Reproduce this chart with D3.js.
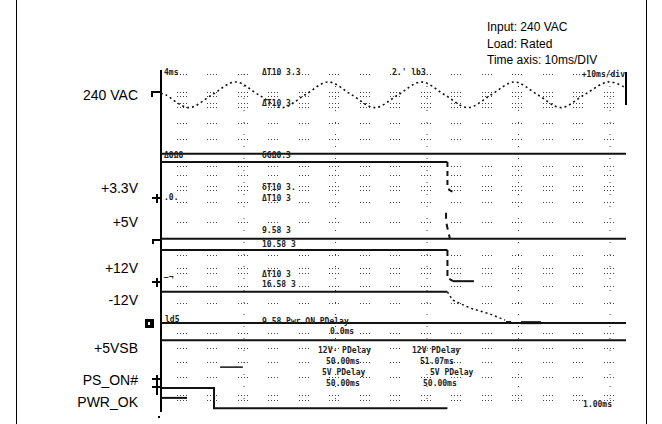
<!DOCTYPE html>
<html lang="en">
<head>
<meta charset="utf-8">
<title>Power down timing</title>
<script src="https://d3js.org/d3.v7.min.js"></script>
<style>
  body { margin: 0; background: #fff; }
  .lbl { font: 14px "Liberation Sans", Arial, sans-serif; fill: #000; }
  .info { font: 12px "Liberation Sans", Arial, sans-serif; fill: #000; }
  .scope { font: bold 8px "DejaVu Sans Mono", monospace; fill: #222; }
</style>
</head>
<body>
<div id="chart"></div>
<script>
"use strict"

// channel names down the left side
var channels = ["240 VAC", "+3.3V", "+5V", "+12V", "-12V", "+5VSB", "PS_ON#", "PWR_OK"];
var infoLines = ["Input: 240 VAC", "Load: Rated", "Time axis: 10ms/DIV"];

// traces: time in ms (10 ms/div), level in screen divisions from the bottom
var acT   = [0, 1, 6, 11, 16, 21, 26, 31, 36, 41, 46, 51, 56, 61, 66, 71, 76, 81, 86, 91, 96, 100];
var acDiv = [7.44, 7.42, 7.12, 7.42, 7.72, 7.42, 7.12, 7.42, 7.72, 7.42, 7.12, 7.42, 7.72, 7.42, 7.12, 7.42, 7.72, 7.42, 7.12, 7.42, 7.72, 7.58];

var refT = [0, 100];
var refA = [6.04, 6.04];
var refB = [4.05, 4.05];
var refC = [2.08, 2.08];
var refD = [1.68, 1.68];

var v33T = [0, 61.6],   v33 = [5.85, 5.85];
var v33FallT = [61.6, 61.6, 62.0, 62.8], v33Fall = [5.85, 5.31, 5.19, 5.15];
var v33TailT = [61.3, 61.3, 61.5, 62.1], v33Tail = [4.66, 4.49, 4.35, 4.07];

var v12T = [0, 61.6],   v12 = [3.79, 3.79];
var v12FallT = [61.6, 61.6, 62.8], v12Fall = [3.79, 3.14, 3.06];
var v12HoldT = [62.8, 67.3], v12Hold = [3.06, 3.06];

var n12T = [0, 61.6],   n12 = [2.81, 2.81];
var n12FallT = [61.6, 62.7, 66.5, 70.8, 74.0], n12Fall = [2.81, 2.62, 2.43, 2.29, 2.15];
var n12DashT = [74.2, 75.3], n12Dash = [2.11, 2.11];
var n12BarT  = [77.4, 81.7], n12Bar  = [2.09, 2.09];

var psOnT = [0, 11.4, 11.4, 61.6], psOn = [0.56, 0.56, 0.09, 0.09];
var pwrT  = [0, 5.6],  pwr  = [0.33, 0.33];
var psSegT = [12.7, 17.6], psSeg = [1.05, 1.05];

// scope on-screen readouts
var readouts = [
  ["+10ms/div", 625, 77, "end"],
  ["4ms", 164, 75], ["\u0394T10 3.3", 262, 75], ["2.' lb3", 392, 75],
  ["\u0394T10 3", 262, 106],
  ["\u0394\u0398\u03a9\u0398", 164, 158], ["\u03b4G\u03a9\u0398.3", 262, 158],
  ["\u0394T10 3", 262, 201], ["\u03b4T10 3.", 262, 190], [".0.", 164, 200],
  ["9.58 3", 262, 233], ["10.58 3", 262, 247],
  ["\u0394T10 3", 262, 277], ["16.58 3", 262, 287], ["\u2212\u00ac", 164, 280],
  ["9.58 Pwr ON  PDelay", 262, 324], ["0.0ms", 330, 334], ["ld5", 165, 322],
  ["12V\u00b7 PDelay", 318, 353], ["12V  PDelay", 412, 353],
  ["50.00ms", 326, 364], ["51.07ms", 420, 364],
  ["5V  PDelay", 322, 375], ["5V  PDelay", 430, 375],
  ["50.00ms", 326, 386], ["50.00ms", 423, 386],
  ["1.00ms", 612, 407, "end"]
];

var W = 662, H = 424;
var box = {left: 161, right: 626, top: 70, bottom: 412};
var labelX = 138;
var labelY = [100, 193, 227, 273, 305, 353, 385, 407];
var infoX = 487, infoY0 = 31, infoStep = 16.5;
var gridRows = [74, 92, 96, 103, 107, 123, 139, 166, 175, 186, 190, 202, 222, 255, 268, 273, 286, 303, 333, 348, 362, 377, 395, 400];

var svg = d3.select("#chart").append("svg")
  .attr("width", W).attr("height", H);

svg.append("rect").attr("width", W).attr("height", H).attr("fill", "#fff");

// page frame
svg.append("line").attr("x1", 16.5).attr("x2", 16.5).attr("y1", 0).attr("y2", H)
  .attr("stroke", "#000");
svg.append("line").attr("x1", 646.5).attr("x2", 646.5).attr("y1", 0).attr("y2", H)
  .attr("stroke", "#000");

var x = d3.scaleLinear().domain([0, 100]).range([box.left, box.right]);
var y = d3.scaleLinear().domain([0, 8]).range([box.bottom, box.top]);

// dotted graticule
var gx = d3.range(-1, 14).map(function(k) { return 213 + 30.5 * k; });
var grid = svg.append("g").attr("fill", "#444");
gridRows.forEach(function(gy) {
  gx.forEach(function(cx) {
    [-6, -3, 0, 3].forEach(function(dx) {
      grid.append("rect").attr("x", Math.round(cx + dx)).attr("y", gy)
        .attr("width", 1).attr("height", 1);
    });
  });
});
gx.forEach(function(cx, k) {
  if ((k + 1) % 3 !== 0) return;
  grid.append("line").attr("x1", cx + 0.5).attr("x2", cx + 0.5)
    .attr("y1", box.top + 4).attr("y2", box.bottom - 4)
    .attr("stroke", "#444").attr("stroke-dasharray", "1,11");
});

// scope frame edges
svg.append("line").attr("x1", box.left).attr("x2", box.left)
  .attr("y1", box.top).attr("y2", box.bottom).attr("stroke", "#000").attr("stroke-width", 2);
svg.append("line").attr("x1", box.right).attr("x2", box.right)
  .attr("y1", box.top + 2).attr("y2", 105).attr("stroke", "#000").attr("stroke-width", 2);

var line = d3.line().x(function(d) { return x(d[0]); }).y(function(d) { return y(d[1]); });
var curve = d3.line().curve(d3.curveCardinal)
  .x(function(d) { return x(d[0]); }).y(function(d) { return y(d[1]); });

function zip(a, b) { return a.map(function(v, i) { return [v, b[i]]; }); }

function trace(t, v, w, dash, gen) {
  svg.append("path").datum(zip(t, v))
    .attr("d", (gen || line))
    .attr("fill", "none").attr("stroke", "#111")
    .attr("stroke-width", w)
    .attr("stroke-dasharray", dash || null);
}

trace(acT, acDiv, 1.6, "2,3", curve);

trace(refT, refA, 2);
trace(refT, refB, 2);
trace(refT, refC, 2);
trace(refT, refD, 2);

trace(v33T, v33, 2);
trace(v33FallT, v33Fall, 2, "5,4");
trace(v33TailT, v33Tail, 2, "6,5");

trace(v12T, v12, 2);
trace(v12FallT, v12Fall, 2, "6,4");
trace(v12HoldT, v12Hold, 2);

trace(n12T, n12, 2);
trace(n12FallT, n12Fall, 1.5, "2,3");
trace(n12DashT, n12Dash, 1.5);
trace(n12BarT, n12Bar, 3);

trace(psOnT, psOn, 2);
trace(pwrT, pwr, 2);
trace(psSegT, psSeg, 1.5);

// channel markers on the left edge
var mk = svg.append("g").attr("stroke", "#000").attr("stroke-width", 2).attr("fill", "none");
mk.append("path").attr("d", "M152,97 V92 H161");
[198, 282, 379].forEach(function(my) {
  mk.append("path").attr("d", "M152," + my + " H162 M157," + (my - 4) + " V" + (my + 5));
});
mk.append("path").attr("d", "M153,244 V240 H161");
mk.append("path").attr("d", "M152,387 H162 M157,383 V395");
svg.append("rect").attr("x", 145).attr("y", 319).attr("width", 9).attr("height", 9).attr("fill", "#000");
svg.append("rect").attr("x", 148).attr("y", 322).attr("width", 2).attr("height", 3).attr("fill", "#fff");
svg.append("rect").attr("x", 158).attr("y", 416).attr("width", 2).attr("height", 2).attr("fill", "#000");

// readouts
svg.append("g").selectAll("text").data(readouts).enter().append("text")
  .attr("class", "scope")
  .attr("x", function(d) { return d[1]; })
  .attr("y", function(d) { return d[2]; })
  .attr("text-anchor", function(d) { return d[3] || "start"; })
  .text(function(d) { return d[0]; });

// channel names
svg.append("g").selectAll("text").data(channels).enter().append("text")
  .attr("class", "lbl")
  .attr("x", labelX)
  .attr("y", function(d, i) { return labelY[i]; })
  .attr("text-anchor", "end")
  .text(function(d) { return d; });

// test conditions
svg.append("g").selectAll("text").data(infoLines).enter().append("text")
  .attr("class", "info")
  .attr("x", infoX)
  .attr("y", function(d, i) { return infoY0 + i * infoStep; })
  .text(function(d) { return d; });
</script>
</body>
</html>
